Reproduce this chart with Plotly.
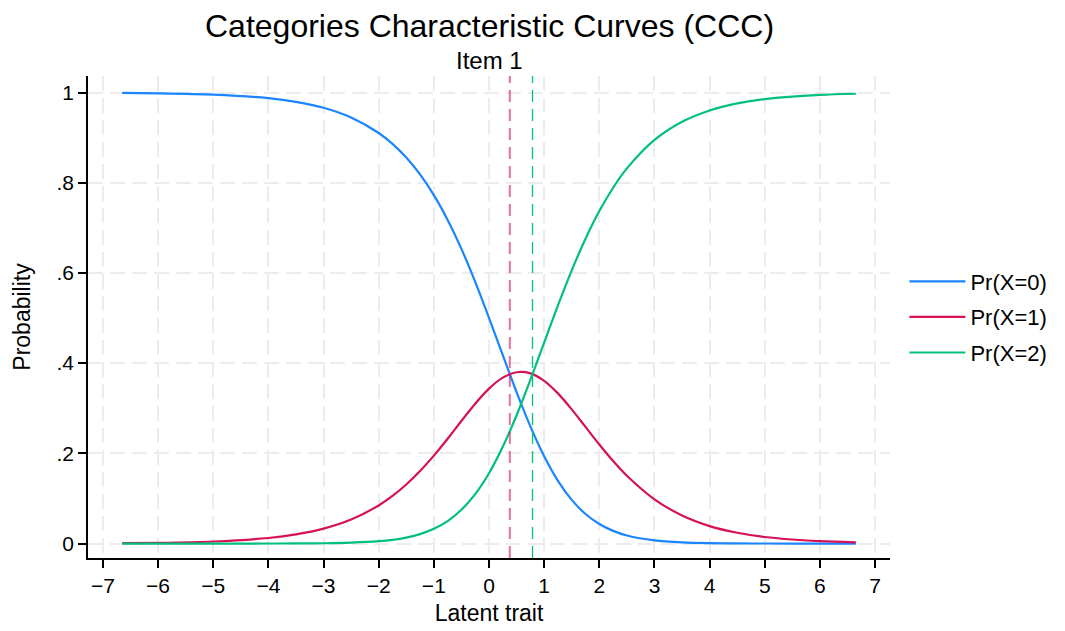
import plotly.graph_objects as go

# values (latent trait grid and category probabilities)
theta = [-6.65, -6.0, -5.0, -4.0, -3.5, -3.0, -2.5, -2.0, -1.75, -1.5, -1.25, -1.0,
         -0.75, -0.5, -0.25, 0.0, 0.25, 0.5, 0.75, 1.0, 1.25, 1.5, 1.75, 2.0,
         2.25, 2.5, 3.0, 3.5, 4.0, 4.5, 5.0, 6.0, 6.65]
p_x0 = [0.9991, 0.9983, 0.9954, 0.9875, 0.9794, 0.9663, 0.9448, 0.9103, 0.8861, 0.8558,
        0.8183, 0.7725, 0.7176, 0.6533, 0.5803, 0.5006, 0.4176, 0.3358, 0.2598, 0.1935,
        0.1391, 0.0968, 0.0655, 0.0433, 0.0281, 0.0180, 0.0071, 0.0027, 0.0010, 0.0004,
        0.0001, 0.0000, 0.0000]
p_x1 = [0.0009, 0.0017, 0.0046, 0.0124, 0.0203, 0.0330, 0.0532, 0.0845, 0.1056, 0.1310,
        0.1608, 0.1949, 0.2325, 0.2718, 0.3100, 0.3434, 0.3678, 0.3798, 0.3773, 0.3609,
        0.3330, 0.2975, 0.2586, 0.2196, 0.1830, 0.1503, 0.0981, 0.0622, 0.0387, 0.0239,
        0.0146, 0.0054, 0.0028]
p_x2 = [0.0000, 0.0000, 0.0000, 0.0001, 0.0003, 0.0007, 0.0020, 0.0052, 0.0083, 0.0133,
        0.0209, 0.0326, 0.0499, 0.0749, 0.1097, 0.1560, 0.2146, 0.2844, 0.3629, 0.4456,
        0.5280, 0.6057, 0.6759, 0.7371, 0.7889, 0.8317, 0.8948, 0.9351, 0.9603, 0.9758,
        0.9853, 0.9946, 0.9972]
series_names = ["Pr(X=0)", "Pr(X=1)", "Pr(X=2)"]
series_colors = ["#1a85ff", "#d41159", "#00bf7f"]
# crossing points marked with dashed lines
cross_points = [0.377, 0.789]
cross_colors = ["rgba(212,17,89,0.6)", "#00bf7f"]

x_ticks = list(range(-7, 8))
y_ticks = [0, 0.2, 0.4, 0.6, 0.8, 1]
y_ticktext = ["0", ".2", ".4", ".6", ".8", "1"]

FONT = "Liberation Sans, Arial, Helvetica, sans-serif"

fig = go.Figure()

for name, ys, col in zip(series_names, [p_x0, p_x1, p_x2], series_colors):
    fig.add_trace(go.Scatter(
        x=theta, y=ys, mode="lines", name=name, legendgroup=name,
        line=dict(color=col, width=2.2, shape="spline", smoothing=0.8),
    ))

for xc, col, w in zip(cross_points, cross_colors, [2, 1.3]):
    fig.add_vline(x=xc, line=dict(color=col, width=w, dash="12px,7px"))

axis_common = dict(
    showgrid=True, gridcolor="#ececec", gridwidth=2, griddash="15px,7px",
    zeroline=False, showline=True, linecolor="black", linewidth=1.5,
    ticks="outside", ticklen=8, tickwidth=1.5, tickcolor="black",
    tickfont=dict(size=21, color="black", family=FONT),
    title_font=dict(size=23, color="black", family=FONT),
    automargin=False,
)

# page body adds ~8px offset, margins compensate
fig.update_layout(
    width=1065, height=631,
    paper_bgcolor="white", plot_bgcolor="white",
    margin=dict(l=80, r=183, t=68, b=81),
    font=dict(family=FONT, color="black"),
    xaxis=dict(axis_common, range=[-7.27, 7.27], tickvals=x_ticks,
               title=dict(text="Latent trait", standoff=9)),
    yaxis=dict(axis_common, range=[-0.032, 1.0366], tickvals=y_ticks, ticktext=y_ticktext,
               title=dict(text="Probability", standoff=19)),
    legend=dict(x=1.018, xanchor="left", y=0.5, yanchor="middle",
                font=dict(size=22, color="black", family=FONT), itemwidth=56,
                traceorder="grouped", tracegroupgap=4, bgcolor="rgba(0,0,0,0)"),
    annotations=[
        dict(text="Categories Characteristic Curves (CCC)", xref="paper", yref="paper",
             x=0.5, y=1.0, yshift=50, yanchor="middle", showarrow=False,
             font=dict(size=32, color="black", family=FONT)),
        dict(text="Item 1", xref="paper", yref="paper", x=0.5, y=1.0,
             yshift=16, yanchor="middle", showarrow=False,
             font=dict(size=24, color="black", family=FONT)),
    ],
)

fig.write_html("out.html")
